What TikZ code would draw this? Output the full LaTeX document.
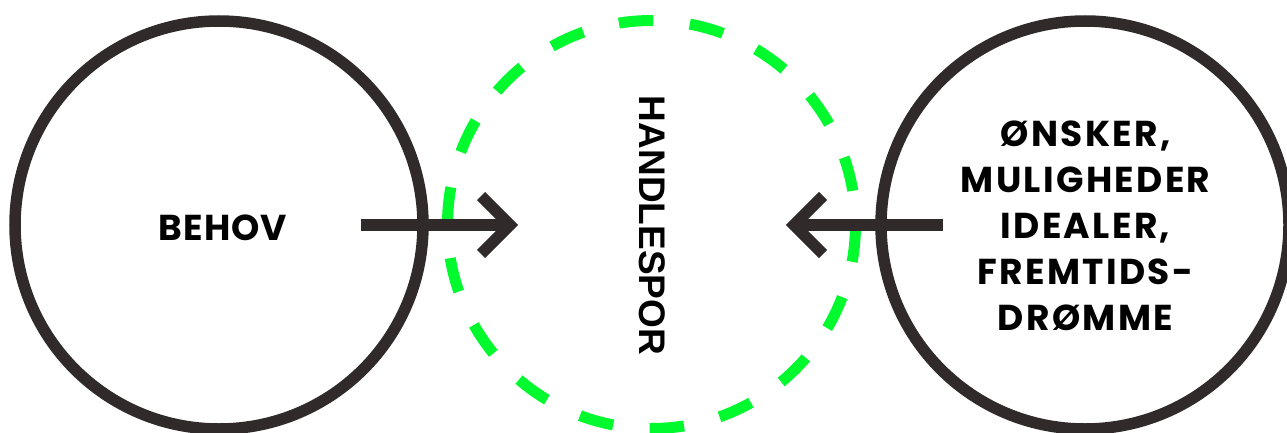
\documentclass[tikz,border=0pt]{standalone}
\usepackage{fontspec}
\newfontfamily\geofont{Poppins}[LetterSpace=3]
\newfontfamily\geowide{Poppins}[LetterSpace=6.5]
\newfontfamily\helvfont{Liberation Sans}
\definecolor{ink}{RGB}{48,42,43}
\definecolor{hgreen}{RGB}{0,250,45}
\begin{document}
\begin{tikzpicture}[x=1pt,y=1pt,
  ring/.style={circle, draw=ink, line width=11.5pt, minimum size=408pt, inner sep=0pt},
  dashring/.style={circle, draw=hgreen, line width=11pt, minimum size=408pt, inner sep=0pt,
    dash pattern=on 34.5pt off 36.71pt, dash phase=37.35pt},
  conn/.style={draw=ink, line width=11.5pt, line join=miter},
  lbl/.style={font=\geofont\bfseries\fontsize{36}{46}\selectfont, text=black, align=center, inner sep=0pt},
  rlbl/.style={font=\geowide\bfseries\fontsize{36}{46}\selectfont, text=black, align=center, inner sep=0pt},
  vlbl/.style={font=\helvfont\bfseries\fontsize{37}{40}\selectfont, text=black, rotate=-90, inner sep=0pt}
]
\useasboundingbox (0,0) rectangle (1287,432);
\node[ring] (behov) at (219,207) {};
\node[dashring] (handle) at (651.5,207.5) {};
\node[ring] (onsker) at (1085,207) {};

\node[lbl] (behovtxt) at (223,204) {BEHOV};
\node[vlbl] (handletxt) at (652.5,206.5) {HANDLESPOR};
\node[rlbl] (onskertxt) at (1085.5,206) {ØNSKER,\\MULIGHEDER\\IDEALER,\\FREMTIDS-\\DRØMME};

\coordinate (bs) at (361,207);
\coordinate (bt) at (510,207);
\coordinate (bu) at (481,236);
\coordinate (bd) at (481,178);
\coordinate (os) at (943,207);
\coordinate (ot) at (794,207);
\coordinate (ou) at (823,236);
\coordinate (od) at (823,178);
\draw[conn] (bs) -- (bt);
\draw[conn] (bu) -- (bt) -- (bd);
\draw[conn] (os) -- (ot);
\draw[conn] (ou) -- (ot) -- (od);
\end{tikzpicture}
\end{document}
